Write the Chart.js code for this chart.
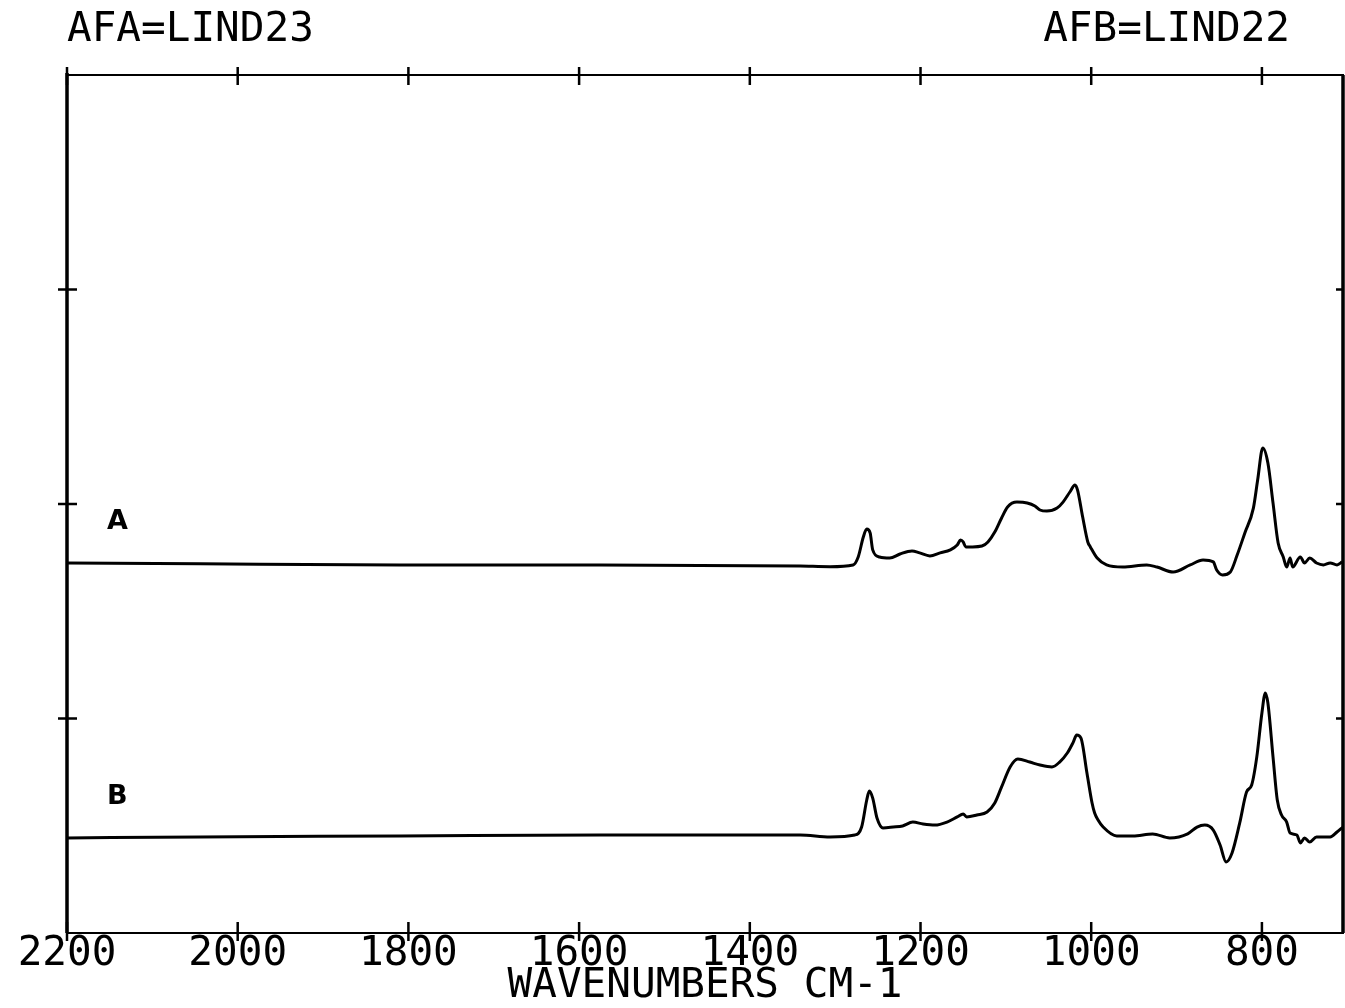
<!DOCTYPE html>
<html>
<head>
<meta charset="utf-8">
<title>IR spectra</title>
<script src="https://cdn.jsdelivr.net/npm/chart.js@4/dist/chart.umd.min.js"></script>
<style>
  html, body { margin: 0; padding: 0; background: #fff; }
  canvas { display: block; }
</style>
</head>
<body>
<canvas id="irChart" width="1345" height="1008"></canvas>
<script>
const WN_A = [2200, 2044, 1810, 1576, 1341, 1306, 1279, 1273, 1267, 1263, 1259, 1256, 1248, 1236, 1224,
  1210, 1201, 1189, 1177, 1165, 1157, 1153, 1150, 1147, 1139, 1128, 1121, 1113, 1105, 1098,
  1087, 1075, 1066, 1060, 1052, 1040, 1033, 1025, 1019, 1016, 1010, 1004, 1001, 993, 982,
  963, 935, 923, 904, 884, 869, 857, 853, 846, 837, 829, 820, 810, 805, 799,
  793, 787, 781, 775, 771, 767, 764, 755, 750, 744, 736, 728, 720, 712, 706];
const ABS_A = [1.725, 1.721, 1.716, 1.716, 1.711, 1.708, 1.716, 1.753, 1.846, 1.883, 1.865, 1.786, 1.753, 1.748, 1.767,
  1.781, 1.772, 1.758, 1.772, 1.786, 1.809, 1.832, 1.823, 1.800, 1.800, 1.804, 1.823, 1.869, 1.935, 1.986,
  2.009, 2.005, 1.991, 1.972, 1.967, 1.981, 2.009, 2.056, 2.089, 2.065, 1.939, 1.823, 1.800, 1.748, 1.716,
  1.706, 1.716, 1.706, 1.683, 1.716, 1.739, 1.730, 1.692, 1.669, 1.683, 1.762, 1.865, 1.981, 2.112, 2.261,
  2.191, 2.005, 1.818, 1.753, 1.706, 1.748, 1.706, 1.753, 1.725, 1.748, 1.725, 1.716, 1.725, 1.716, 1.730];

const WN_B = [2200, 2044, 1810, 1576, 1341, 1306, 1277, 1269, 1263, 1260, 1256, 1251, 1244, 1232, 1221,
  1209, 1197, 1183, 1169, 1157, 1150, 1146, 1134, 1122, 1113, 1105, 1095, 1086, 1072, 1060,
  1046, 1037, 1028, 1021, 1017, 1012, 1005, 999, 996, 992, 986, 970, 951, 928, 908,
  887, 876, 867, 857, 849, 842, 835, 826, 818, 812, 806, 800, 796, 793, 787,
  782, 777, 771, 767, 759, 755, 750, 744, 736, 728, 720, 712, 705];
const ABS_B = [0.443, 0.448, 0.452, 0.457, 0.457, 0.448, 0.457, 0.494, 0.620, 0.662, 0.629, 0.536, 0.490, 0.494, 0.499,
  0.517, 0.508, 0.503, 0.517, 0.541, 0.555, 0.541, 0.550, 0.564, 0.606, 0.681, 0.774, 0.811, 0.797, 0.783,
  0.774, 0.797, 0.839, 0.890, 0.923, 0.909, 0.746, 0.606, 0.559, 0.527, 0.494, 0.452, 0.452, 0.462, 0.443,
  0.462, 0.494, 0.503, 0.480, 0.410, 0.331, 0.373, 0.513, 0.657, 0.690, 0.821, 1.026, 1.119, 1.072, 0.821,
  0.620, 0.550, 0.517, 0.466, 0.457, 0.420, 0.443, 0.424, 0.448, 0.448, 0.448, 0.471, 0.494];

const X_TICKS = [2200, 2000, 1800, 1600, 1400, 1200, 1000, 800];
const Y_TICKS = [1, 2, 3];
const HEADERS = ['AFA=LIND23', 'AFB=LIND22'];
const TRACE_NAMES = ['A', 'B'];

const MONO = '"DejaVu Sans Mono", monospace';

const toPoints = (xs, ys) => xs.map((x, i) => ({ x: x, y: ys[i] }));

// frame, tick marks, header text and trace letters, like the old plotter output
const plotterFrame = {
  id: 'plotterFrame',
  afterDatasetsDraw(chart) {
    const { ctx, chartArea: a, scales: { x, y } } = chart;
    ctx.save();
    ctx.strokeStyle = '#000';
    ctx.fillStyle = '#000';
    ctx.lineWidth = 2;
    ctx.strokeRect(a.left, a.top, a.right - a.left, a.bottom - a.top);
    ctx.lineWidth = 3.5;
    ctx.beginPath();
    ctx.moveTo(a.left, a.top - 2); ctx.lineTo(a.left, a.bottom);
    ctx.moveTo(a.right, a.top); ctx.lineTo(a.right, a.bottom);
    ctx.stroke();

    ctx.lineWidth = 2.5;
    X_TICKS.forEach(v => {
      const px = x.getPixelForValue(v);
      ctx.beginPath();
      ctx.moveTo(px, a.top - 8); ctx.lineTo(px, a.top + 10);
      ctx.moveTo(px, a.bottom - 11); ctx.lineTo(px, a.bottom + 8);
      ctx.stroke();
    });
    Y_TICKS.forEach(v => {
      const py = y.getPixelForValue(v);
      ctx.beginPath();
      ctx.moveTo(a.left - 9, py); ctx.lineTo(a.left + 10, py);
      ctx.moveTo(a.right - 7, py); ctx.lineTo(a.right, py);
      ctx.stroke();
    });

    ctx.font = '41px ' + MONO;
    ctx.textBaseline = 'middle';
    ctx.textAlign = 'left';
    ctx.fillText(HEADERS[0], a.left, 30);
    ctx.textAlign = 'right';
    ctx.fillText(HEADERS[1], a.right - 53, 30);

    ctx.font = 'bold 27px "DejaVu Sans", sans-serif';
    ctx.textAlign = 'center';
    ctx.fillText(TRACE_NAMES[0], x.getPixelForValue(2141), y.getPixelForValue(1.915));
    ctx.fillText(TRACE_NAMES[1], x.getPixelForValue(2141), y.getPixelForValue(0.633));
    ctx.restore();
  }
};

new Chart(document.getElementById('irChart'), {
  type: 'line',
  data: {
    datasets: [
      { label: TRACE_NAMES[0], data: toPoints(WN_A, ABS_A) },
      { label: TRACE_NAMES[1], data: toPoints(WN_B, ABS_B) }
    ]
  },
  options: {
    responsive: false,
    animation: false,
    devicePixelRatio: 1,
    layout: { padding: { left: 67, right: 2, top: 75, bottom: 4 } },
    elements: {
      line: { borderColor: '#000', borderWidth: 3, cubicInterpolationMode: 'monotone', fill: false },
      point: { radius: 0 }
    },
    plugins: {
      legend: { display: false },
      tooltip: { enabled: false }
    },
    scales: {
      x: {
        type: 'linear',
        reverse: true,
        min: 705,
        max: 2200,
        afterBuildTicks: scale => { scale.ticks = X_TICKS.map(v => ({ value: v })); },
        grid: { display: false, drawTicks: false },
        border: { display: false },
        ticks: {
          color: '#000',
          padding: 0,
          maxRotation: 0,
          autoSkip: false,
          callback: v => String(v),
          font: { family: MONO, size: 41, lineHeight: '43px' }
        },
        title: {
          display: true,
          text: 'WAVENUMBERS CM-1',
          color: '#000',
          padding: { top: 0, bottom: 8 },
          font: { family: MONO, size: 41, lineHeight: '20px' }
        }
      },
      y: {
        min: 0,
        max: 4,
        grid: { display: false, drawTicks: false },
        border: { display: false },
        ticks: { display: false, stepSize: 1 }
      }
    }
  },
  plugins: [plotterFrame]
});
</script>
</body>
</html>
